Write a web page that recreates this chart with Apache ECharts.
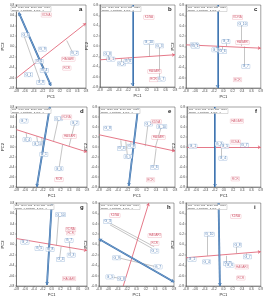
<!DOCTYPE html>
<html>
<head>
<meta charset="utf-8">
<script src="https://cdn.jsdelivr.net/npm/echarts@6/dist/echarts.min.js"></script>
<style>
  html, body { margin: 0; padding: 0; background: #fff; }
  #main { width: 266px; height: 300px; }
</style>
</head>
<body>
<div id="main"></div>
<script>
// panel letters and the biplot header lines
var letters = ['a', 'b', 'c', 'd', 'e', 'f', 'g', 'h', 'i'];
var headers = [
  'PC1 = 54.2%, PC2 = 25.1%, Sum = 79.3%',
  'PC1 = 61.8%, PC2 = 20.4%, Sum = 82.2%',
  'PC1 = 58.6%, PC2 = 23.9%, Sum = 82.5%',
  'PC1 = 49.7%, PC2 = 28.3%, Sum = 78.0%',
  'PC1 = 52.3%, PC2 = 26.0%, Sum = 78.3%',
  'PC1 = 66.1%, PC2 = 19.5%, Sum = 85.6%',
  'PC1 = 55.4%, PC2 = 24.7%, Sum = 80.1%',
  'PC1 = 47.9%, PC2 = 30.2%, Sum = 78.1%',
  'PC1 = 60.3%, PC2 = 22.8%, Sum = 83.1%'
];
var headerLine2 = 'Scaling = 0, Centering = 2, SVP = 1';

// axis ticks
var axisMin = -0.8, axisMax = 0.8, axisStep = 0.2;

// blue axis (x1, y1, x2, y2) per panel
var blueLines = [
  [-0.744, 0.653, -0.007, -0.755],
  [-0.109, 0.8, -0.105, -0.78],
  [-0.124, 0.8, -0.124, -0.8],
  [-0.042, 0.8, -0.338, -0.8],
  [0.021, 0.767, -0.174, -0.78],
  [-0.191, 0.8, -0.191, -0.8],
  [0.0, 0.78, -0.107, -0.78],
  [-0.8, 0.107, 0.8, -0.722],
  [-0.103, 0.8, -0.075, -0.8]
];

// red axis (x1, y1, x2, y2) per panel
var redLines = [
  [-0.8, -0.608, 0.8, 0.448],
  [-0.8, -0.269, 0.8, -0.171],
  [-0.8, 0.032, 0.8, -0.032],
  [-0.8, 0.347, 0.8, -0.1],
  [-0.8, 0.245, 0.8, -0.082],
  [-0.8, -0.003, 0.8, -0.003],
  [-0.8, 0.115, 0.8, -0.115],
  [-0.283, -0.8, 0.262, 0.8],
  [-0.8, -0.256, 0.8, -0.139]
];

// genotype points [PC1, PC2, name]
var genotypes = [
  [[-0.59, 0.224, 'G_5'], [-0.203, -0.051, 'G_9'], [-0.274, -0.288, 'G_6'], [-0.16, -0.461, 'G_4'], [-0.52, -0.544, 'G_1'], [-0.24, -0.691, 'G_8'], [0.533, -0.128, 'G_2']],
  [[-0.638, -0.152, 'G_8'], [-0.568, -0.256, 'G_1'], [-0.342, -0.347, 'G_2'], [-0.201, -0.301, 'G_6'], [0.243, 0.069, 'G_10'], [0.469, 0.003, 'G_3'], [0.504, -0.645, 'G_7']],
  [[-0.622, 0.032, 'G_8'], [-0.6, 0.005, 'G_1'], [0.053, 0.096, 'G_3'], [-0.16, -0.064, 'G_9'], [-0.018, -0.096, 'G_6'], [0.409, 0.435, 'G_10'], [0.48, -0.384, 'G_7']],
  [[-0.628, 0.52, 'G_7'], [-0.559, 0.147, 'G_4'], [-0.317, 0.067, 'G_10'], [-0.179, -0.147, 'G_1'], [0.152, 0.567, 'G_3'], [0.524, 0.48, 'G_2'], [0.165, -0.433, 'G_6']],
  [[-0.619, 0.376, 'G_8'], [-0.327, -0.029, 'G_4'], [-0.188, -0.192, 'G_5'], [-0.118, 0.016, 'G_9'], [0.243, 0.461, 'G_2'], [0.522, 0.408, 'G_10'], [0.368, -0.408, 'G_6']],
  [[-0.672, 0.016, 'G_1'], [-0.106, 0.062, 'G_3'], [0.021, 0.016, 'G_5'], [-0.021, -0.225, 'G_4'], [0.446, 0.036, 'G_7']],
  [[-0.607, 0.045, 'G_2'], [-0.286, -0.077, 'G_5'], [-0.036, -0.096, 'G_8'], [0.2, 0.576, 'G_10'], [0.2, -0.288, 'G_4'], [0.393, 0.077, 'G_7'], [0.443, -0.205, 'G_3']],
  [[-0.616, 0.443, 'G_3'], [0.389, -0.126, 'G_1'], [0.46, -0.431, 'G_7'], [-0.424, -0.256, 'G_9'], [-0.566, -0.625, 'G_5'], [-0.318, -0.658, 'G_8']],
  [[-0.672, -0.288, 'G_1'], [-0.359, -0.334, 'G_4'], [-0.302, 0.197, 'G_10'], [0.089, -0.366, 'G_2'], [0.139, -0.398, 'G_6'], [0.302, -0.01, 'G_8'], [0.516, -0.237, 'G_7']]
];

// environment points [PC1, PC2, name]
var environments = [
  [[-0.112, 0.608, 'KDNA'], [0.393, -0.243, 'HAGARI'], [0.358, -0.416, 'RCR']],
  [[0.243, 0.56, 'KDNA'], [0.363, -0.496, 'HAGARI'], [0.342, -0.657, 'RCR']],
  [[0.302, 0.563, 'KDNA'], [0.409, 0.077, 'HAGARI'], [0.302, -0.64, 'RCR']],
  [[0.338, 0.6, 'KDNA'], [0.407, 0.213, 'HAGARI'], [0.165, -0.653, 'RCR']],
  [[0.403, 0.506, 'KDNA'], [0.453, 0.192, 'HAGARI'], [0.285, -0.656, 'RCR']],
  [[0.283, 0.519, 'HAGARI'], [0.248, 0.101, 'KDNA'], [0.248, -0.637, 'RCR']],
  [[0.429, 0.288, 'KDNA'], [0.429, 0.224, 'RCR'], [0.393, -0.659, 'HAGARI']],
  [[-0.46, 0.56, 'KDNA'], [0.389, 0.171, 'HAGARI'], [0.389, 0.022, 'RCR']],
  [[0.267, 0.541, 'KDNA'], [0.395, -0.431, 'HAGARI'], [0.373, -0.645, 'RCR']]
];

// grey projection segments (x1, y1, x2, y2)
var projections = [
  [[-0.624, 0.205, -0.253, -0.672], [-0.533, 0.23, -0.133, -0.461], [0.358, 0.115, 0.498, -0.128]],
  [[0.243, 0.069, 0.243, -0.205], [0.454, -0.01, 0.454, -0.606], [-0.624, -0.171, -0.624, -0.256], [-0.342, -0.334, -0.342, -0.243], [-0.201, -0.301, -0.201, -0.23]],
  [[0.387, 0.416, 0.387, 0.006], [0.445, 0.0, 0.445, -0.371], [0.053, 0.077, 0.053, 0.006], [-0.018, 0.0, -0.018, -0.077], [-0.16, 0.0, -0.16, -0.064]],
  [[0.152, 0.567, 0.041, 0.113], [0.524, 0.48, 0.393, 0.013], [0.165, -0.433, 0.248, 0.053], [-0.559, 0.147, -0.579, 0.28], [-0.317, 0.067, -0.338, 0.213], [-0.179, -0.147, -0.228, 0.187]],
  [[0.229, 0.442, 0.174, 0.016], [0.508, 0.395, 0.383, -0.016], [0.355, -0.389, 0.403, -0.029], [-0.327, -0.016, -0.341, 0.134], [-0.202, -0.166, -0.237, 0.114], [-0.118, 0.016, -0.133, 0.095]],
  [[-0.05, -0.029, -0.05, -0.212]],
  [[0.157, 0.544, 0.107, -0.019], [0.179, -0.269, 0.214, -0.038], [0.393, 0.064, 0.393, -0.064], [0.429, -0.192, 0.407, -0.064], [-0.286, -0.064, -0.286, 0.0], [-0.071, -0.077, -0.071, -0.019]],
  [[-0.602, 0.431, 0.376, -0.042], [-0.566, 0.379, 0.333, -0.075], [-0.389, -0.256, 0.425, -0.431], [-0.531, -0.625, -0.318, -0.658]],
  [[-0.338, 0.184, -0.338, -0.217], [0.053, -0.217, 0.053, -0.366], [0.281, -0.029, 0.281, -0.171], [0.48, -0.171, 0.48, -0.237]]
];

// layout of the 3x3 panels
var gridLefts = [10, 100, 186, 10, 99, 187, 13, 99, 186];
var gridTops = [5, 5, 5, 107, 107, 107, 203, 203, 203];
var gridWidths = [76, 75, 75, 77, 76, 75, 74, 75, 75];
var gridHeights = [83, 82, 83, 80, 80, 80, 83, 83, 83];

var myChart = echarts.init(document.getElementById('main'), null, {renderer: 'canvas'});

var grids = [], xAxes = [], yAxes = [], titles = [], series = [];

function seg(arr) {
  return arr.map(function (s) {
    return {coords: [[s[0], s[1]], [s[2], s[3]]]};
  });
}

for (var i = 0; i < 9; i++) {
  grids.push({
    left: gridLefts[i], top: gridTops[i], width: gridWidths[i], height: gridHeights[i],
    show: true, borderColor: '#444', borderWidth: 0.5, backgroundColor: '#fff'
  });
  var axisCommon = {
    gridIndex: i, min: axisMin, max: axisMax, interval: axisStep,
    splitLine: {show: false},
    axisLine: {onZero: false, lineStyle: {color: '#444', width: 0.5}},
    axisTick: {length: 1.5, lineStyle: {color: '#444', width: 0.4}},
    axisLabel: {fontSize: 3.2, color: '#444', margin: 2,
      formatter: function (v) { return v.toFixed(1); }},
    nameTextStyle: {fontSize: 4, color: '#222'}
  };
  xAxes.push(Object.assign({}, axisCommon, {
    type: 'value', name: 'PC1', nameLocation: 'middle', nameGap: 7
  }));
  yAxes.push(Object.assign({}, axisCommon, {
    type: 'value', name: 'PC2', nameLocation: 'middle', nameGap: 9
  }));

  titles.push({
    text: headers[i] + '\n' + headerLine2,
    left: gridLefts[i] + 1, top: gridTops[i] + 1,
    padding: [0.5, 1],
    backgroundColor: '#fff', borderColor: '#888', borderWidth: 0.3,
    textStyle: {fontSize: 2, lineHeight: 2.6, fontWeight: 'normal', color: '#333', fontFamily: 'Liberation Sans'}
  });
  titles.push({
    text: letters[i],
    left: gridLefts[i] + gridWidths[i] - 7, top: gridTops[i] + 1,
    padding: 0,
    textStyle: {fontSize: 6, fontWeight: 'bold', color: '#222', fontFamily: 'Liberation Sans'}
  });

  // grey projections
  series.push({
    type: 'lines', coordinateSystem: 'cartesian2d', xAxisIndex: i, yAxisIndex: i,
    silent: true, symbol: 'none', z: 2,
    lineStyle: {color: '#8a8a8a', width: 0.5, opacity: 1},
    data: seg(projections[i])
  });
  // red average-environment axis
  series.push({
    type: 'lines', coordinateSystem: 'cartesian2d', xAxisIndex: i, yAxisIndex: i,
    silent: true, z: 3, symbol: ['none', 'arrow'], symbolSize: 3,
    lineStyle: {color: '#e26a7c', width: 0.9, opacity: 1},
    data: seg([redLines[i]])
  });
  // blue axis, dark outline with light core
  series.push({
    type: 'lines', coordinateSystem: 'cartesian2d', xAxisIndex: i, yAxisIndex: i,
    silent: true, z: 4, symbol: ['arrow', 'arrow'], symbolSize: 3,
    lineStyle: {color: '#2f67a6', width: 1.8, opacity: 1},
    data: seg([blueLines[i]])
  });
  series.push({
    type: 'lines', coordinateSystem: 'cartesian2d', xAxisIndex: i, yAxisIndex: i,
    silent: true, z: 5, symbol: 'none',
    lineStyle: {color: '#9fc2e6', width: 0.6, opacity: 1},
    data: seg([blueLines[i]])
  });
  // genotype labels
  series.push({
    type: 'scatter', xAxisIndex: i, yAxisIndex: i, z: 6,
    symbolSize: 0, silent: true,
    label: {
      show: true, position: 'inside',
      formatter: function (p) { return p.value[2]; },
      fontSize: 3.3, color: '#1f5aa0', fontFamily: 'Liberation Sans',
      backgroundColor: '#fff', borderColor: '#6b95c8', borderWidth: 0.3,
      padding: [0.4, 0.8]
    },
    data: genotypes[i]
  });
  // environment labels
  series.push({
    type: 'scatter', xAxisIndex: i, yAxisIndex: i, z: 6,
    symbolSize: 0, silent: true,
    label: {
      show: true, position: 'inside',
      formatter: function (p) { return p.value[2]; },
      fontSize: 3, color: '#c8374f', fontFamily: 'Liberation Sans',
      backgroundColor: '#fff', borderColor: '#e58a98', borderWidth: 0.3,
      padding: [0.4, 0.8]
    },
    data: environments[i]
  });
}

var option = {
  animation: false,
  backgroundColor: '#fff',
  title: titles,
  grid: grids,
  xAxis: xAxes,
  yAxis: yAxes,
  series: series
};
myChart.setOption(option);
</script>
</body>
</html>
